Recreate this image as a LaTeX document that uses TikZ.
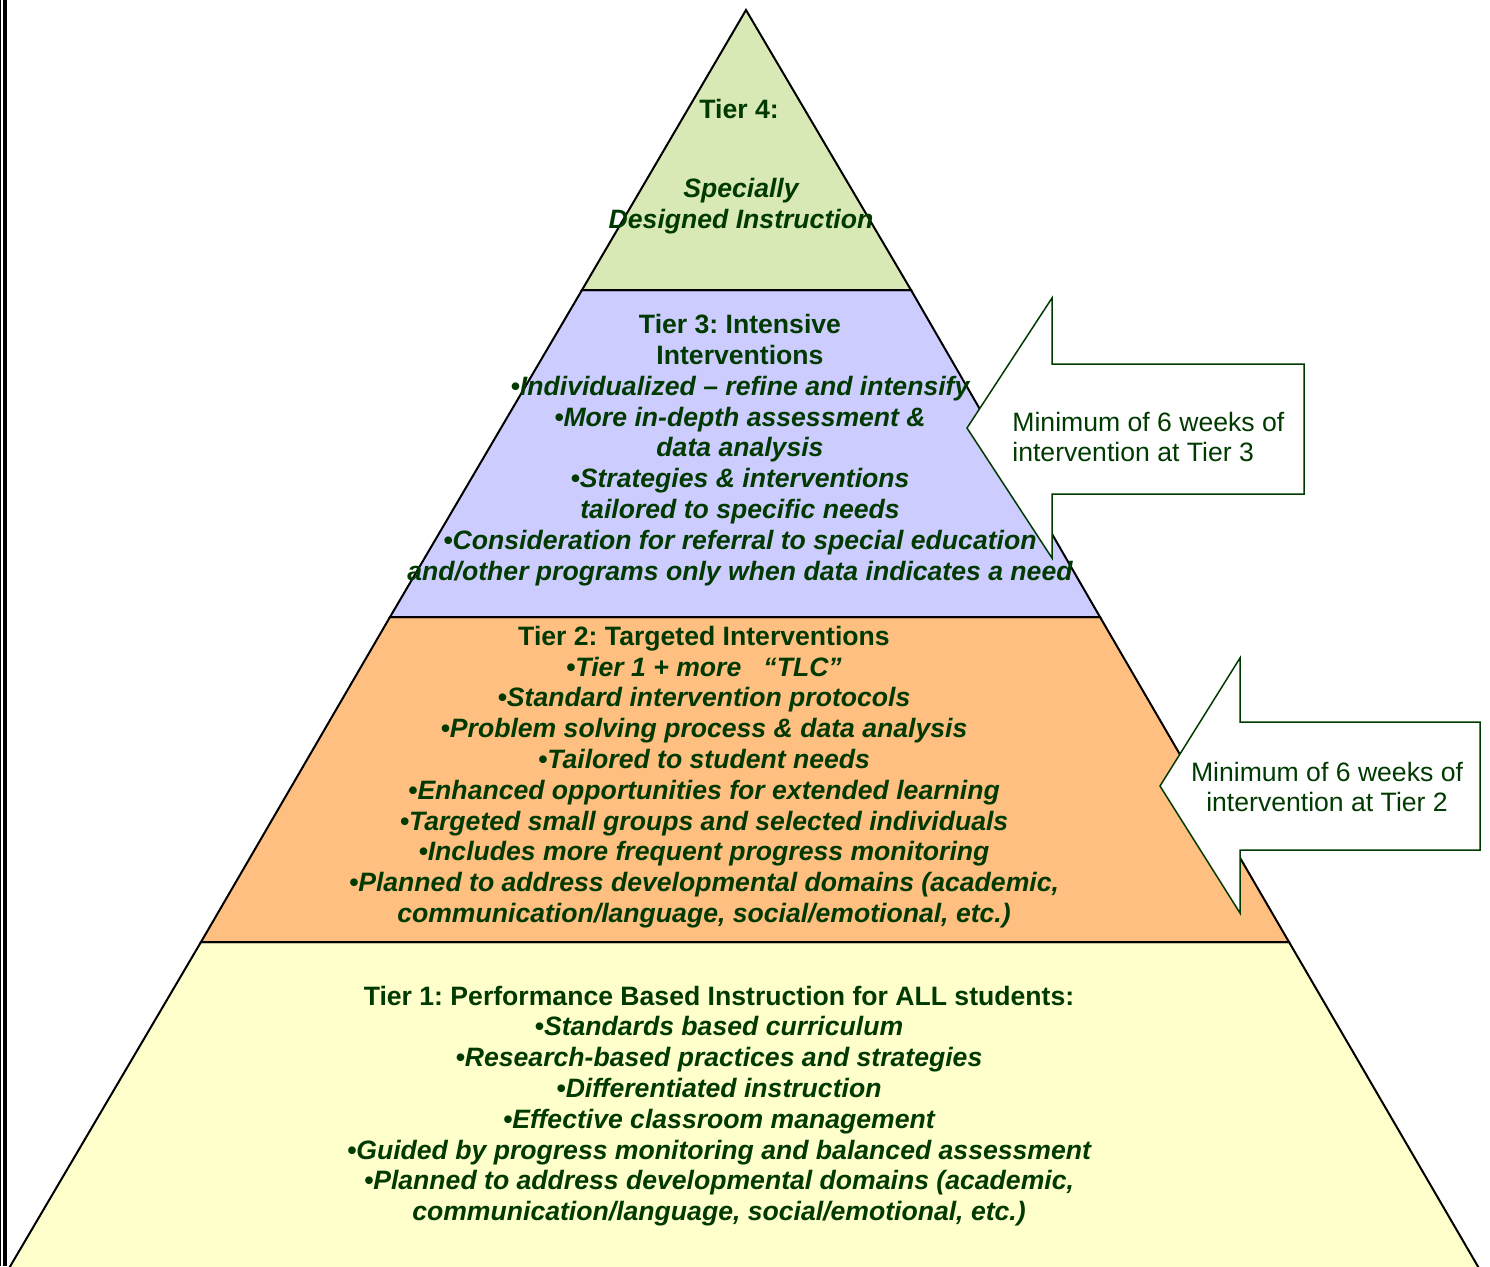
\documentclass[tikz,border=0pt]{standalone}
\usepackage{fontspec}
\setmainfont{Liberation Sans}
\frenchspacing
\definecolor{inkgreen}{RGB}{0,58,0}
\definecolor{tierfour}{RGB}{216,233,182}
\definecolor{tierthree}{RGB}{204,204,255}
\definecolor{tiertwo}{RGB}{255,191,128}
\definecolor{tierone}{RGB}{255,255,204}
\begin{document}
\begin{tikzpicture}[x=0.5pt, y=-0.5pt,
  layer/.style = {draw=black, line width=1pt, line join=miter},
  main/.style = {align=center, text=inkgreen, inner sep=0pt,
    font=\fontsize{13.3}{15.4}\selectfont\bfseries\itshape},
  note/.style = {text=inkgreen, inner sep=0pt,
    font=\fontsize{13.3}{15.4}\selectfont},
  callout/.style = {draw=inkgreen, fill=white, line width=0.75pt, line join=miter}]
      \useasboundingbox (0,0) rectangle (1490,1266);

      % page frame on the left
      \draw[line width=0.35pt] (0.6,0) -- (0.6,1266);
      \draw[line width=0.35pt] (3.2,0) -- (3.2,1266);
      \draw[line width=1.15pt] (5.5,0) -- (5.5,1266);

      \coordinate (top) at (746,10);
      \coordinate (4l) at (582,290);  \coordinate (4r) at (911,290);
      \coordinate (3l) at (390,617);  \coordinate (3r) at (1100,617);
      \coordinate (2l) at (201,942);  \coordinate (2r) at (1289,942);
      \coordinate (1l) at (8,1270);   \coordinate (1r) at (1480,1270);

      \draw[layer, fill=tierone] (2l) -- (2r) -- (1r) -- (1l) -- cycle;
      \draw[layer, fill=tiertwo] (3l) -- (3r) -- (2r) -- (2l) -- cycle;
      \draw[layer, fill=tierthree] (4l) -- (4r) -- (3r) -- (3l) -- cycle;
      \draw[layer, fill=tierfour] (top) -- (4r) -- (4l) -- cycle;

      \node[main] (4) at (739,109) {\upshape Tier 4:};
      \node[main] (5) at (741,206) {Specially\\Designed Instruction};
      \node[main] (3) at (740,450) {\upshape Tier 3: Intensive\\
        \upshape Interventions\\
        •Individualized – refine and intensify\\
        •More in-depth assessment \&\\
        data analysis\\
        •Strategies \& interventions\\
        tailored to specific needs\\
        •Consideration for referral to special education\\
        and/other programs only when data indicates a need};
      \node[main] (2) at (704,777) {\upshape Tier 2: Targeted Interventions\\
        •Tier 1 + more \ \ “TLC”\\
        •Standard intervention protocols\\
        •Problem solving process \& data analysis\\
        •Tailored to student needs\\
        •Enhanced opportunities for extended learning\\
        •Targeted small groups and selected individuals\\
        •Includes more frequent progress monitoring\\
        •Planned to address developmental domains (academic,\\
        communication/language, social/emotional, etc.)};
      \node[main] (1) at (719,1106) {\upshape Tier 1: Performance Based Instruction for ALL students:\\
        •Standards based curriculum\\
        •Research-based practices and strategies\\
        •Differentiated instruction\\
        •Effective classroom management\\
        •Guided by progress monitoring and balanced assessment\\
        •Planned to address developmental domains (academic,\\
        communication/language, social/emotional, etc.)};

      % arrows pointing at tiers 3 and 2
      \draw[callout] (967,428) -- (1052,298) -- (1052,364) -- (1304,364)
        -- (1304,494) -- (1052,494) -- (1052,558) -- cycle;
      \draw[callout] (1160,786) -- (1240,658) -- (1240,722) -- (1480,722)
        -- (1480,850) -- (1240,850) -- (1240,913) -- cycle;

      \node[note, align=left, anchor=west] (6) at (1012,437)
        {Minimum of 6 weeks of\\intervention at Tier 3};
      \node[note, align=center] (7) at (1327,787)
        {Minimum of 6 weeks of\\intervention at Tier 2};
\end{tikzpicture}
\end{document}
